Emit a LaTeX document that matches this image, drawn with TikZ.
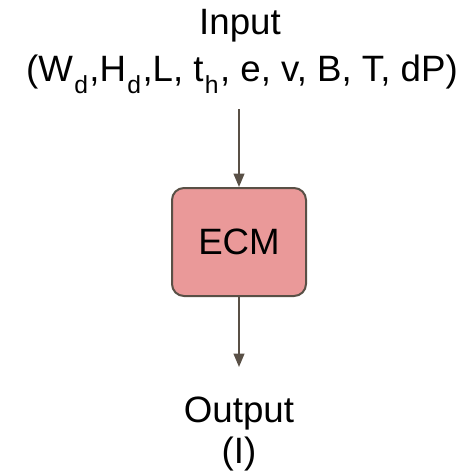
\documentclass[tikz,border=0pt]{standalone}
\usepackage{fontspec}
\setmainfont{Liberation Sans}
\usetikzlibrary{arrows.meta}

\definecolor{edgecol}{HTML}{595046}
\definecolor{ecmfill}{HTML}{EA9999}

% lowered subscript for the parameter names
\newcommand\lowsub[1]{\kern1pt\raisebox{-9pt}{\fontsize{18.5}{19}\selectfont #1}\kern1pt}

\begin{document}
\begin{tikzpicture}[x=0.75pt, y=-0.75pt, font=\fontsize{27.5}{30}\selectfont,
  flow/.style={edgecol, line width=1.5pt, -{Triangle[length=10pt, width=8pt]}},
  block/.style={draw=edgecol, fill=ecmfill, line width=1.5pt, rounded corners=9pt,
    minimum width=100.5pt, minimum height=81pt}]
  \useasboundingbox (0,0) rectangle (469,476);

  \node[block] (ecm) at (239,242) {ECM};

  \node[anchor=base] (inp) at (240,34) {Input};
  \node[anchor=base] (args) at (242,81)
    {(W\lowsub{d},H\lowsub{d},L, t\lowsub{h}, e, v, B, T, dP)};

  \node[anchor=base] (out) at (239,422) {Output};
  \node[anchor=base] (res) at (239,463) {(I)};

  % arrows in and out of the block
  \coordinate (top) at (239,109);
  \coordinate (bot) at (239,367);
  \draw[flow] (top) -- (ecm.north);
  \draw[flow] (ecm.south) -- (bot);
\end{tikzpicture}
\end{document}
